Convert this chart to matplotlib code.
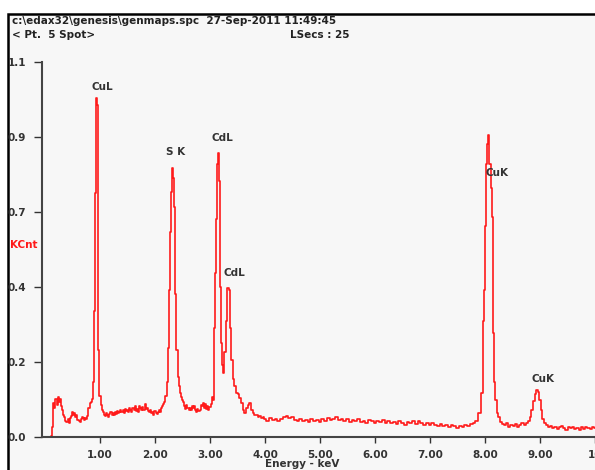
import numpy as np
import matplotlib
matplotlib.use("Agg")
import matplotlib.pyplot as plt
from matplotlib.patches import Rectangle

# Spektrum (Energie in keV, Intensitaet in KCnt)
energy = [
    0.00, 0.04, 0.08, 0.12, 0.14, 0.16, 0.18, 0.20, 0.22, 0.24, 0.26, 0.28, 0.30,
    0.32, 0.34, 0.36, 0.38, 0.40, 0.42, 0.44, 0.46, 0.48, 0.50, 0.52, 0.54, 0.56,
    0.58, 0.60, 0.62, 0.64, 0.66, 0.68, 0.70, 0.72, 0.74, 0.76, 0.78, 0.80, 0.82,
    0.84, 0.86, 0.88, 0.90, 0.92, 0.94, 0.95, 0.96, 0.98, 1.00, 1.02, 1.04, 1.06,
    1.08, 1.10, 1.12, 1.14, 1.16, 1.18, 1.20, 1.22, 1.24, 1.26, 1.28, 1.30, 1.32,
    1.34, 1.36, 1.38, 1.40, 1.42, 1.44, 1.46, 1.48, 1.50, 1.52, 1.54, 1.56, 1.58,
    1.60, 1.62, 1.64, 1.66, 1.68, 1.70, 1.72, 1.74, 1.76, 1.78, 1.80, 1.82, 1.84,
    1.86, 1.88, 1.90, 1.92, 1.94, 1.96, 1.98, 2.00, 2.02, 2.04, 2.06, 2.08, 2.10,
    2.12, 2.14, 2.16, 2.18, 2.20, 2.22, 2.24, 2.26, 2.28, 2.30, 2.32, 2.34, 2.36,
    2.38, 2.40, 2.42, 2.44, 2.46, 2.48, 2.50, 2.52, 2.54, 2.56, 2.58, 2.60, 2.62,
    2.64, 2.66, 2.68, 2.70, 2.72, 2.74, 2.76, 2.78, 2.80, 2.82, 2.84, 2.86, 2.88,
    2.90, 2.92, 2.94, 2.96, 2.98, 3.00, 3.02, 3.04, 3.06, 3.08, 3.10, 3.12, 3.14,
    3.15, 3.17, 3.19, 3.21, 3.23, 3.25, 3.27, 3.30, 3.33, 3.35, 3.37, 3.40, 3.43,
    3.46, 3.49, 3.52, 3.55, 3.58, 3.61, 3.64, 3.67, 3.70, 3.73, 3.76, 3.79, 3.82,
    3.85, 3.88, 3.91, 3.94, 3.97, 4.00, 4.05, 4.10, 4.15, 4.20, 4.25, 4.30, 4.35,
    4.40, 4.45, 4.50, 4.55, 4.60, 4.65, 4.70, 4.75, 4.80, 4.85, 4.90, 4.95, 5.00,
    5.05, 5.10, 5.15, 5.20, 5.25, 5.30, 5.35, 5.40, 5.45, 5.50, 5.55, 5.60, 5.65,
    5.70, 5.75, 5.80, 5.85, 5.90, 5.95, 6.00, 6.05, 6.10, 6.15, 6.20, 6.25, 6.30,
    6.35, 6.40, 6.45, 6.50, 6.55, 6.60, 6.65, 6.70, 6.75, 6.80, 6.85, 6.90, 6.95,
    7.00, 7.05, 7.10, 7.15, 7.20, 7.25, 7.30, 7.35, 7.40, 7.45, 7.50, 7.55, 7.60,
    7.65, 7.70, 7.75, 7.80, 7.85, 7.90, 7.94, 7.97, 7.99, 8.01, 8.03, 8.05, 8.07,
    8.09, 8.11, 8.13, 8.15, 8.18, 8.20, 8.23, 8.26, 8.29, 8.32, 8.36, 8.40, 8.44,
    8.48, 8.52, 8.56, 8.60, 8.64, 8.68, 8.72, 8.76, 8.80, 8.83, 8.86, 8.89, 8.92,
    8.95, 8.97, 9.00, 9.03, 9.06, 9.09, 9.12, 9.16, 9.20, 9.24, 9.28, 9.32, 9.36,
    9.40, 9.44, 9.48, 9.52, 9.56, 9.60, 9.64, 9.68, 9.72, 9.76, 9.80, 9.84, 9.88,
    9.92, 9.96, 10.00,
]
kcnt = [
    0.000, 0.000, 0.000, 0.004, 0.030, 0.100, 0.085, 0.112, 0.095, 0.118, 0.104, 0.112, 0.090,
    0.078, 0.066, 0.058, 0.048, 0.044, 0.052, 0.040, 0.055, 0.062, 0.072, 0.064, 0.070, 0.060,
    0.066, 0.050, 0.046, 0.044, 0.052, 0.058, 0.055, 0.050, 0.057, 0.054, 0.062, 0.085, 0.100,
    0.104, 0.112, 0.160, 0.370, 0.715, 0.995, 0.975, 0.715, 0.255, 0.120, 0.095, 0.080, 0.072,
    0.066, 0.062, 0.070, 0.064, 0.060, 0.068, 0.072, 0.066, 0.070, 0.064, 0.074, 0.068, 0.076,
    0.070, 0.073, 0.080, 0.072, 0.078, 0.070, 0.082, 0.076, 0.079, 0.072, 0.084, 0.078, 0.074,
    0.085, 0.080, 0.092, 0.076, 0.082, 0.074, 0.090, 0.084, 0.080, 0.088, 0.078, 0.098, 0.082,
    0.086, 0.076, 0.072, 0.080, 0.070, 0.074, 0.066, 0.076, 0.070, 0.068, 0.072, 0.078, 0.074,
    0.084, 0.090, 0.096, 0.104, 0.120, 0.160, 0.260, 0.430, 0.600, 0.720, 0.790, 0.760, 0.675,
    0.420, 0.255, 0.176, 0.150, 0.130, 0.118, 0.110, 0.102, 0.090, 0.082, 0.094, 0.086, 0.078,
    0.084, 0.080, 0.090, 0.085, 0.092, 0.080, 0.074, 0.082, 0.076, 0.080, 0.094, 0.090, 0.100,
    0.086, 0.098, 0.082, 0.090, 0.078, 0.088, 0.096, 0.118, 0.110, 0.320, 0.480, 0.640, 0.800,
    0.833, 0.750, 0.440, 0.275, 0.210, 0.188, 0.250, 0.340, 0.437, 0.430, 0.320, 0.226, 0.170,
    0.150, 0.130, 0.125, 0.115, 0.100, 0.080, 0.070, 0.085, 0.095, 0.100, 0.078, 0.070, 0.064,
    0.066, 0.058, 0.062, 0.055, 0.058, 0.052, 0.048, 0.056, 0.050, 0.054, 0.046, 0.052, 0.058,
    0.062, 0.055, 0.060, 0.050, 0.046, 0.052, 0.048, 0.050, 0.044, 0.052, 0.046, 0.050, 0.043,
    0.052, 0.047, 0.055, 0.049, 0.053, 0.058, 0.050, 0.054, 0.048, 0.052, 0.045, 0.050, 0.047,
    0.053, 0.044, 0.048, 0.042, 0.050, 0.046, 0.040, 0.048, 0.044, 0.050, 0.042, 0.046, 0.040,
    0.044, 0.038, 0.046, 0.042, 0.036, 0.044, 0.040, 0.046, 0.038, 0.048, 0.040, 0.036, 0.042,
    0.034, 0.040, 0.036, 0.033, 0.038, 0.032, 0.035, 0.030, 0.034, 0.031, 0.026, 0.033, 0.030,
    0.036, 0.032, 0.038, 0.040, 0.048, 0.070, 0.130, 0.340, 0.430, 0.620, 0.800, 0.860, 0.886,
    0.800, 0.730, 0.645, 0.305, 0.160, 0.108, 0.070, 0.059, 0.045, 0.038, 0.034, 0.040, 0.030,
    0.036, 0.032, 0.038, 0.030, 0.034, 0.040, 0.036, 0.042, 0.048, 0.060, 0.080, 0.105, 0.125,
    0.138, 0.132, 0.110, 0.080, 0.052, 0.040, 0.034, 0.028, 0.032, 0.026, 0.030, 0.024, 0.028,
    0.032, 0.026, 0.022, 0.028, 0.025, 0.030, 0.024, 0.027, 0.022, 0.028, 0.024, 0.030, 0.026,
    0.023, 0.028, 0.025,
]

# Peak-Beschriftungen (Text, Energie, Hoehe)
peak_names = ["CuL", "S K", "CdL", "CdL", "CuK", "CuK"]
peak_x = [1.04, 2.38, 3.22, 3.44, 8.22, 9.05]
peak_y = [1.027, 0.836, 0.877, 0.481, 0.774, 0.170]

xticks = [1, 2, 3, 4, 5, 6, 7, 8, 9, 10]
xticklabels = ["1.00", "2.00", "3.00", "4.00", "5.00", "6.00", "7.00", "8.00", "9.00", "10"]
yticks = [0.0, 0.22, 0.44, 0.66, 0.88, 1.1]
yticklabels = ["0.0", "0.2", "0.4", "0.7", "0.9", "1.1"]

plt.rcParams['font.family'] = ['DejaVu Sans']
plt.rcParams['font.weight'] = 'bold'
fs = 7.5

W, H = 595, 470
fig = plt.figure(figsize=(W / 100, H / 100), dpi=100)
fig.patch.set_facecolor("white")

# grauer Rahmen um das Ganze
fig.patches.append(Rectangle((8 / W, -0.01), 1.0, 1 - 14 / H + 0.01,
                             transform=fig.transFigure, facecolor="#f7f7f7",
                             edgecolor="black", linewidth=1.8, zorder=-10))

ax = fig.add_axes([42 / W, 1 - 437 / H, 1 - 42 / W, (437 - 62) / H])
ax.patch.set_alpha(0)

ax.plot(energy, kcnt, color="#ff1a1a", lw=1.2, drawstyle="steps-mid")

ax.set_xlim(-0.055, 10.0)
ax.set_ylim(0, 1.1)
ax.set_xticks(xticks)
ax.set_xticklabels(xticklabels)
ax.set_yticks(yticks)
ax.set_yticklabels(yticklabels, ha="left")
ax.tick_params(axis="x", length=4, width=1, pad=5, labelsize=fs, colors="#333333")
# Beschriftung links buendig am Rahmen (ca. 26 px Abstand)
ax.tick_params(axis="y", length=6, width=1, pad=18.5, labelsize=fs, colors="#333333")
for s in ["top", "right"]:
    ax.spines[s].set_visible(False)
for s in ["left", "bottom"]:
    ax.spines[s].set_color("#444444")
    ax.spines[s].set_linewidth(1.5)

for name, px, py in zip(peak_names, peak_x, peak_y):
    ax.text(px, py, name, ha="center", va="center", fontsize=fs,
            fontweight="bold", color="#333333")

fig.text(12 / W, 1 - 21 / H, "c:\\edax32\\genesis\\genmaps.spc  27-Sep-2011 11:49:45",
         fontsize=fs, fontweight="bold", color="#222222", va="center")
fig.text(12 / W, 1 - 35 / H, "< Pt.  5 Spot>", fontsize=fs, fontweight="bold",
         color="#222222", va="center")
fig.text(290 / W, 1 - 35 / H, "LSecs : 25", fontsize=fs, fontweight="bold",
         color="#222222", va="center")
fig.text(10 / W, 1 - 245 / H, "KCnt", fontsize=fs, fontweight="bold",
         color="#ff1a1a", va="center")
fig.text(302 / W, 1 - 464 / H, "Energy - keV", fontsize=fs, fontweight="bold",
         color="#333333", ha="center", va="center")

fig.savefig("out.png", dpi=100)
